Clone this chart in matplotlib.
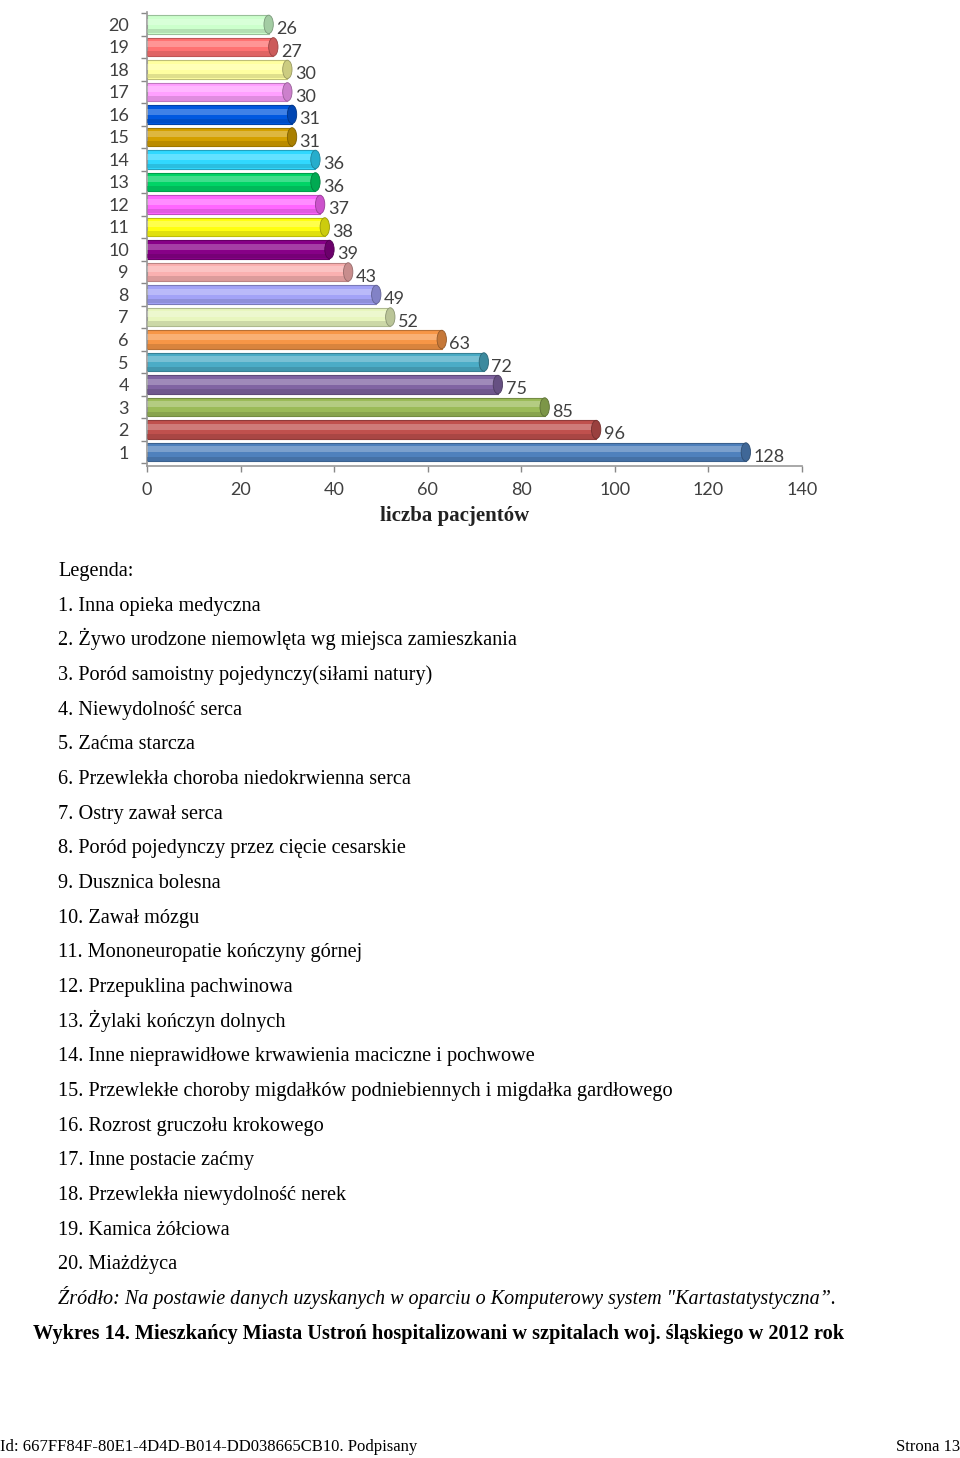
import matplotlib
matplotlib.use("Agg")
import matplotlib.pyplot as plt
from matplotlib.patches import Ellipse
import matplotlib.colors as mcolors
import numpy as np

categories = list(range(1, 21))
values = [128, 96, 85, 75, 72, 63, 52, 49, 43, 39, 38, 37, 36, 36, 31, 31, 30, 30, 27, 26]
bar_colors = ["#4F81BD", "#C0504D", "#9BBB59", "#8064A2", "#4BACC6", "#F79646",
              "#E8F6BE", "#A3A3F7", "#FAB0B0", "#870087", "#FFFF10", "#FF66FF",
              "#00D466", "#30D8FF", "#D4A000", "#0058E0", "#FFA0FF", "#FFFFA0",
              "#FF7272", "#CCFFCC"]
xticks = [0, 20, 40, 60, 80, 100, 120, 140]
x_label = "liczba pacjentów"
legend_items = [
    "Inna opieka medyczna",
    "Żywo urodzone niemowlęta wg miejsca zamieszkania",
    "Poród samoistny pojedynczy(siłami natury)",
    "Niewydolność serca",
    "Zaćma starcza",
    "Przewlekła choroba niedokrwienna serca",
    "Ostry zawał serca",
    "Poród pojedynczy przez cięcie cesarskie",
    "Dusznica bolesna",
    "Zawał mózgu",
    "Mononeuropatie kończyny górnej",
    "Przepuklina pachwinowa",
    "Żylaki kończyn dolnych",
    "Inne nieprawidłowe krwawienia maciczne i pochwowe",
    "Przewlekłe choroby migdałków podniebiennych i migdałka gardłowego",
    "Rozrost gruczołu krokowego",
    "Inne postacie zaćmy",
    "Przewlekła niewydolność nerek",
    "Kamica żółciowa",
    "Miażdżyca",
]
source_text = "Źródło: Na postawie danych uzyskanych w oparciu o Komputerowy system \"Kartastatystyczna\u201d."
caption_text = "Wykres 14. Mieszkańcy Miasta Ustroń hospitalizowani w szpitalach woj. śląskiego w 2012 rok"
footer_left = "Id: 667FF84F-80E1-4D4D-B014-DD038665CB10. Podpisany"
footer_right = "Strona 13"

W, H = 960, 1458
fig = plt.figure(figsize=(W / 100, H / 100), dpi=100)
fig.patch.set_facecolor("white")

def fx(px):
    return px / W

def fy(py):
    return 1 - py / H

ax = fig.add_axes([fx(147), fy(466), fx(802) - fx(147), fy(12) - fy(466)])

def darker(c, f=0.7):
    r, g, b = mcolors.to_rgb(c)
    return (r * f, g * f, b * f)

bar_h = 0.82
for cat, v, c in zip(categories, values, bar_colors):
    ax.barh(cat, v, height=bar_h, color=c, edgecolor=darker(c, 0.75), linewidth=0.8, zorder=2)
    # highlight band (cylinder effect)
    ax.barh(cat + 0.12, v, height=0.28, color="white", alpha=0.25, linewidth=0, zorder=3)
    # bottom shadow band
    ax.barh(cat - 0.3, v, height=0.2, color=darker(c, 0.8), alpha=0.6, linewidth=0, zorder=3)
    # end cap
    ax.add_patch(Ellipse((v, cat), width=2.0, height=bar_h, facecolor=darker(c, 0.8),
                         edgecolor=darker(c, 0.6), linewidth=0.6, zorder=4))
    ax.add_patch(Ellipse((0, cat), width=1.2, height=bar_h, facecolor=darker(c, 0.9),
                         edgecolor="none", zorder=1.5))
    ax.annotate(str(v), xy=(v, cat), xytext=(5.5, -3.5), textcoords="offset points",
                ha="left", va="center", fontsize=13, color="#404040", family="Lato")

ax.set_xlim(0, 140)
ax.set_ylim(0.38, 20.55)
ax.set_xticks(xticks)
ax.set_xticklabels([str(t) for t in xticks], fontsize=13, color="#404040", family="Lato")
ax.set_yticks(categories)
ax.set_yticklabels([str(c) for c in categories], fontsize=13, color="#404040", family="Lato")
ax.set_yticks(np.arange(0.5, 21, 1.0), minor=True)
ax.tick_params(axis="y", which="major", length=0, pad=13)
ax.tick_params(axis="y", which="minor", length=4.5, color="#888888", width=1)
ax.tick_params(axis="x", which="major", length=4.5, color="#888888", width=1, pad=7)
for s in ["top", "right"]:
    ax.spines[s].set_visible(False)
for s in ["left", "bottom"]:
    ax.spines[s].set_color("#999999")
    ax.spines[s].set_linewidth(1.2)
ax.set_facecolor("white")

fig.text(fx(455), fy(516), x_label, ha="center", va="center", fontsize=15,
         fontweight="bold", family="Liberation Serif", color="#222222")

serif = "Liberation Serif"
fs = 14.6
fig.text(fx(58), fy(576), "Legenda:", ha="left", va="baseline", fontsize=fs, family=serif, color="black")
for i, item in enumerate(legend_items):
    y = 604.5 + i * 34.67 + 6
    fig.text(fx(58), fy(y), f"{i + 1}. {item}", ha="left", va="baseline", fontsize=fs,
             family=serif, color="black")

fig.text(fx(58), fy(1304), source_text, ha="left", va="baseline", fontsize=14.5,
         family=serif, style="italic", color="black")
fig.text(fx(33), fy(1339), caption_text, ha="left", va="baseline", fontsize=14.6,
         family=serif, fontweight="bold", color="black")
fig.text(fx(0), fy(1451), footer_left, ha="left", va="baseline", fontsize=12,
         family=serif, color="black")
fig.text(fx(960), fy(1451), footer_right, ha="right", va="baseline", fontsize=12,
         family=serif, color="black")

fig.savefig("out.png", dpi=100, facecolor="white")
